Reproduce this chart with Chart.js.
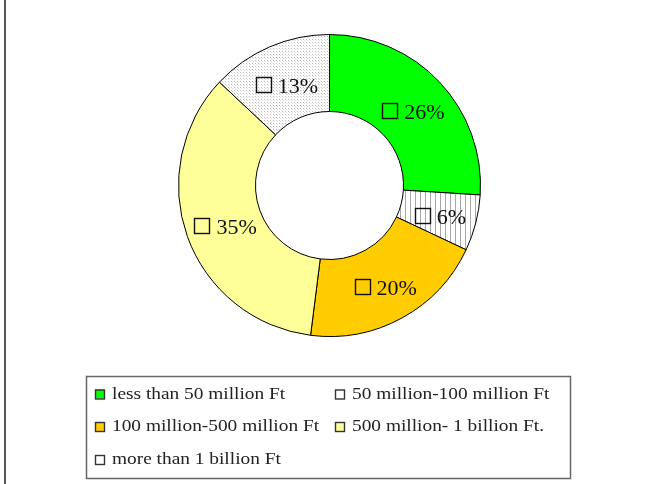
<!DOCTYPE html>
<html><head><meta charset="utf-8">
<script src="https://cdn.jsdelivr.net/npm/chart.js@4.4.0/dist/chart.umd.min.js"></script>
<style>html,body{margin:0;padding:0;background:#fff;} #wrap{width:650px;height:484px;position:relative;}</style>
</head><body><div id="wrap"><canvas id="c" width="650" height="484"></canvas></div>
<script>
const categories = ['less than 50 million Ft', '50 million-100 million Ft', '100 million-500 million Ft', '500 million- 1 billion Ft.', 'more than 1 billion Ft'];
const shares = [26, 6, 20, 35, 13];
const sliceLabels = ['26%', '6%', '20%', '35%', '13%'];

function makePattern(kind) {
  const p = document.createElement('canvas');
  const ctx = p.getContext('2d');
  if (kind === 'stripes') {
    p.width = 5; p.height = 4;
    ctx.fillStyle = '#fff'; ctx.fillRect(0, 0, 5, 4);
    ctx.fillStyle = '#a8a8a8'; ctx.fillRect(0, 0, 1, 4);
  } else {
    p.width = 3; p.height = 3;
    ctx.fillStyle = '#fff'; ctx.fillRect(0, 0, 3, 3);
    ctx.fillStyle = '#bcbcbc'; ctx.fillRect(0, 0, 1, 1);
    ctx.fillStyle = '#dedede'; ctx.fillRect(1, 1, 1, 1);
  }
  return document.getElementById('c').getContext('2d').createPattern(p, 'repeat');
}

const sliceFills = ['#00ff00', makePattern('stripes'), '#ffcc00', '#ffff99', makePattern('dots')];
const legendFills = ['#00ff00', '#ffffff', '#ffcc00', '#ffff99', '#ffffff'];

const framePlugin = {
  id: 'frame',
  afterDraw(chart) {
    const ctx = chart.ctx;
    ctx.save();
    // left frame line
    ctx.strokeStyle = '#555';
    ctx.lineWidth = 2;
    ctx.beginPath(); ctx.moveTo(5, 0); ctx.lineTo(5, 484); ctx.stroke();
    // slice labels
    const meta = chart.getDatasetMeta(0);
    ctx.font = '22px "Liberation Serif", "Times New Roman", serif';
    ctx.textBaseline = 'middle';
    meta.data.forEach((arc, i) => {
      const pt = arc.tooltipPosition();
      const txt = sliceLabels[i];
      const w = ctx.measureText(txt).width;
      const box = 15, gap = 7;
      const total = box + gap + w;
      const x0 = pt.x - total / 2 + 2;
      const y0 = pt.y + 4;
      ctx.strokeStyle = '#111'; ctx.lineWidth = 1.4;
      ctx.strokeRect(Math.round(x0) + 0.5, Math.round(y0 - box / 2 - 2) + 0.5, box, box);
      ctx.fillStyle = '#111';
      ctx.textAlign = 'left';
      ctx.fillText(txt, x0 + box + gap, y0 + 1);
    });
    // legend
    ctx.strokeStyle = '#666'; ctx.lineWidth = 1.5;
    ctx.strokeRect(86.5, 376.5, 484, 102);
    ctx.font = '16px "Liberation Serif", "Times New Roman", serif';
    const markX = [95, 335];
    const textX = [112, 352];
    const rowY = [394.5, 427, 460];
    categories.forEach((name, i) => {
      const c = i % 2, y = rowY[Math.floor(i / 2)];
      const x = markX[c];
      ctx.fillStyle = legendFills[i];
      ctx.fillRect(x, y - 5, 9, 9);
      ctx.strokeStyle = '#333'; ctx.lineWidth = 1.4;
      ctx.strokeRect(x + 0.5, y - 4.5, 9, 9);
      ctx.save();
      ctx.translate(textX[c], y);
      ctx.scale(1.21, 1);
      ctx.fillStyle = '#222';
      ctx.textAlign = 'left';
      ctx.fillText(name, 0, 0);
      ctx.restore();
    });
    ctx.restore();
  }
};

new Chart(document.getElementById('c'), {
  type: 'doughnut',
  data: {
    labels: categories,
    datasets: [{
      data: shares,
      backgroundColor: sliceFills,
      borderColor: '#000',
      borderWidth: 1,
      borderAlign: 'center'
    }]
  },
  options: {
    responsive: false,
    animation: false,
    cutout: '49%',
    layout: { padding: { left: 178, right: 169, top: 34, bottom: 147 } },
    plugins: { legend: { display: false }, tooltip: { enabled: false } }
  },
  plugins: [framePlugin]
});
</script>
</body></html>
